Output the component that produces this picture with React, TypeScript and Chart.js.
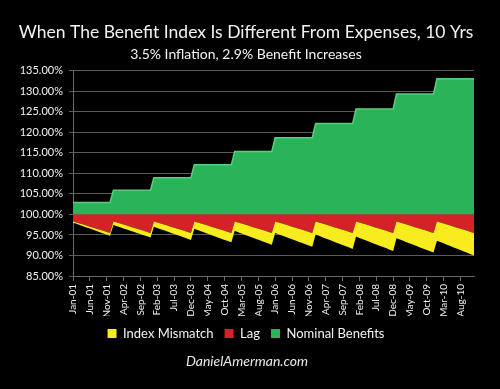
import { useEffect, useRef } from 'react';
import { Chart, registerables } from 'chart.js';

Chart.register(...registerables);

const TITLE = 'When The Benefit Index Is Different From Expenses, 10 Yrs';
const SUBTITLE = '3.5% Inflation, 2.9% Benefit Increases';
const FOOTER = 'DanielAmerman.com';

const MONTHS = ['Jan', 'Feb', 'Mar', 'Apr', 'May', 'Jun', 'Jul', 'Aug', 'Sep', 'Oct', 'Nov', 'Dec'];
const YEARS = ['01', '02', '03', '04', '05', '06', '07', '08', '09', '10'];
const LABELS = YEARS.flatMap((y) => MONTHS.map((m) => `${m}-${y}`));

// Nominal benefit level for each year (%)
const NOMINAL_BY_YEAR = [102.9, 105.88, 108.95, 112.11, 115.36, 118.71, 122.15, 125.69, 129.34, 133.09];
const NOMINAL = NOMINAL_BY_YEAR.flatMap((v) => MONTHS.map(() => v));

// Lower edge of the "Lag" band (%)
const LAG_BOTTOM = [
  98.3, 98.05, 97.79, 97.54, 97.28, 97.03, 96.77, 96.52, 96.26, 96.01, 95.75, 95.5,
  98.3, 98.05, 97.79, 97.54, 97.28, 97.03, 96.77, 96.52, 96.26, 96.01, 95.75, 95.5,
  98.3, 98.05, 97.79, 97.54, 97.28, 97.03, 96.77, 96.52, 96.26, 96.01, 95.75, 95.5,
  98.3, 98.05, 97.79, 97.54, 97.28, 97.03, 96.77, 96.52, 96.26, 96.01, 95.75, 95.5,
  98.3, 98.05, 97.79, 97.54, 97.28, 97.03, 96.77, 96.52, 96.26, 96.01, 95.75, 95.5,
  98.3, 98.05, 97.79, 97.54, 97.28, 97.03, 96.77, 96.52, 96.26, 96.01, 95.75, 95.5,
  98.3, 98.05, 97.79, 97.54, 97.28, 97.03, 96.77, 96.52, 96.26, 96.01, 95.75, 95.5,
  98.3, 98.05, 97.79, 97.54, 97.28, 97.03, 96.77, 96.52, 96.26, 96.01, 95.75, 95.5,
  98.3, 98.05, 97.79, 97.54, 97.28, 97.03, 96.77, 96.52, 96.26, 96.01, 95.75, 95.5,
  98.3, 98.05, 97.79, 97.54, 97.28, 97.03, 96.77, 96.52, 96.26, 96.01, 95.75, 95.5,
];

// Lower edge of the "Index Mismatch" band (%)
const MISMATCH_BOTTOM = [
  98.0, 97.71, 97.42, 97.13, 96.84, 96.55, 96.25, 95.96, 95.67, 95.38, 95.09, 94.8,
  97.4, 97.13, 96.85, 96.58, 96.31, 96.04, 95.76, 95.49, 95.22, 94.95, 94.67, 94.4,
  97.0, 96.71, 96.42, 96.13, 95.84, 95.55, 95.25, 94.96, 94.67, 94.38, 94.09, 93.8,
  96.5, 96.2, 95.9, 95.6, 95.3, 95.0, 94.7, 94.4, 94.1, 93.8, 93.5, 93.2,
  96.0, 95.69, 95.38, 95.07, 94.76, 94.45, 94.15, 93.84, 93.53, 93.22, 92.91, 92.6,
  95.5, 95.19, 94.88, 94.57, 94.26, 93.95, 93.65, 93.34, 93.03, 92.72, 92.41, 92.1,
  95.1, 94.78, 94.46, 94.15, 93.83, 93.51, 93.19, 92.87, 92.55, 92.24, 91.92, 91.6,
  94.6, 94.28, 93.96, 93.65, 93.33, 93.01, 92.69, 92.37, 92.05, 91.74, 91.42, 91.1,
  94.2, 93.88, 93.56, 93.25, 92.93, 92.61, 92.29, 91.97, 91.65, 91.34, 91.02, 90.7,
  93.6, 93.27, 92.95, 92.62, 92.29, 91.96, 91.64, 91.31, 90.98, 90.65, 90.33, 90.0,
];

const Y_MIN = 85;
const Y_MAX = 135;
const Y_STEP = 5;
const LABEL_EVERY = 5;

const FONT = 'Lato, "Open Sans", sans-serif';

const footerPlugin = {
  id: 'footerText',
  afterDraw(chart: any) {
    const ctx = chart.ctx;
    ctx.save();
    ctx.font = `italic 14px ${FONT}`;
    ctx.fillStyle = '#e8e8e8';
    ctx.textAlign = 'center';
    ctx.textBaseline = 'middle';
    ctx.fillText(FOOTER, 247, 361);
    ctx.restore();
  },
};

export default function App() {
  const ref = useRef<HTMLCanvasElement | null>(null);

  useEffect(() => {
    document.body.style.margin = '0';
    document.body.style.background = '#000';
    const canvas = ref.current;
    if (!canvas) return;
    const chart = new Chart(canvas, {
      type: 'line',
      data: {
        labels: LABELS,
        datasets: [
          {
            label: 'Index Mismatch',
            data: MISMATCH_BOTTOM,
            backgroundColor: '#f7ec1e',
            borderColor: '#f7ec1e',
            borderWidth: 0,
            pointRadius: 0,
            fill: '+1',
            tension: 0,
          },
          {
            label: 'Lag',
            data: LAG_BOTTOM,
            backgroundColor: '#d42229',
            borderColor: '#d42229',
            borderWidth: 0,
            pointRadius: 0,
            fill: { value: 100 },
            tension: 0,
          },
          {
            label: 'Nominal Benefits',
            data: NOMINAL,
            backgroundColor: '#2bb35a',
            borderColor: '#5ccd7e',
            borderWidth: 1.5,
            pointRadius: 0,
            fill: { value: 100 },
            tension: 0,
          },
        ],
      },
      options: {
        animation: false,
        responsive: false,
        events: [],
        layout: { padding: { left: 18, right: 26, top: 0, bottom: 39 } },
        plugins: {
          title: {
            display: true,
            text: TITLE,
            color: '#f2f2f2',
            font: { family: FONT, size: 17.5, weight: 'normal' },
            padding: { top: 22, bottom: 3 },
          },
          subtitle: {
            display: true,
            text: SUBTITLE,
            color: '#f2f2f2',
            font: { family: FONT, size: 14, weight: 'normal' },
            padding: { top: 0, bottom: 8 },
          },
          legend: {
            position: 'bottom',
            labels: {
              color: '#f2f2f2',
              font: { family: FONT, size: 13 },
              boxWidth: 9,
              boxHeight: 9,
              padding: 11,
              generateLabels: (chart: any) =>
                chart.data.datasets.map((ds: any, i: number) => ({
                  text: ds.label,
                  fillStyle: ds.backgroundColor,
                  strokeStyle: ds.backgroundColor,
                  lineWidth: 0,
                  fontColor: '#f2f2f2',
                  datasetIndex: i,
                  hidden: false,
                })),
            },
          },
          tooltip: { enabled: false },
        },
        scales: {
          x: {
            type: 'category',
            offset: false,
            afterFit: (scale: any) => {
              scale.height = 40;
            },
            grid: {
              display: true,
              drawOnChartArea: false,
              drawTicks: true,
              tickLength: 5,
              color: (c: any) => (c.index % LABEL_EVERY === 0 ? '#6a6a6a' : 'transparent'),
            },
            border: { display: true, color: '#6a6a6a' },
            ticks: {
              autoSkip: false,
              maxRotation: 90,
              minRotation: 90,
              color: '#f2f2f2',
              font: { family: FONT, size: 10 },
              padding: 3,
              callback: (_v: any, i: number) => (i % LABEL_EVERY === 0 ? LABELS[i] : ''),
            },
          },
          y: {
            min: Y_MIN,
            max: Y_MAX,
            afterFit: (scale: any) => {
              scale.width = 55;
            },
            grid: { color: '#5a5a5a', tickLength: 4, lineWidth: 1 },
            border: { display: true, color: '#6a6a6a' },
            ticks: {
              stepSize: Y_STEP,
              color: '#f2f2f2',
              font: { family: FONT, size: 11 },
              padding: 6,
              callback: (v: any) => Number(v).toFixed(2) + '%',
            },
          },
        },
      },
      plugins: [footerPlugin],
    } as any);
    return () => chart.destroy();
  }, []);

  return (
    <div style={{ width: 500, height: 389, background: '#000' }}>
      <canvas ref={ref} width={500} height={389} style={{ display: 'block' }} />
    </div>
  );
}
